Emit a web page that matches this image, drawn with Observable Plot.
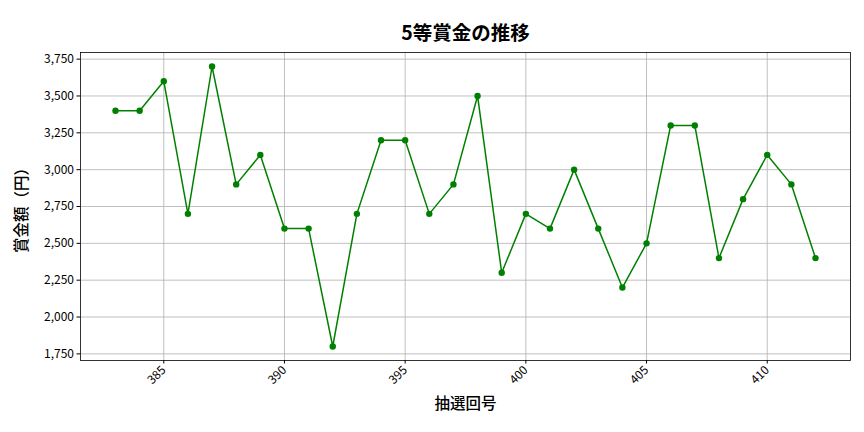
<!DOCTYPE html>
<html><head><meta charset="utf-8">
<script src="https://cdn.jsdelivr.net/npm/d3@7"></script>
<script src="https://cdn.jsdelivr.net/npm/@observablehq/plot@0.6"></script>
<style>body{margin:0;background:#fff}</style>
</head><body><div id="chart"></div>
<script>
const draws = [383,384,385,386,387,388,389,390,391,392,393,394,395,396,397,398,399,400,401,402,403,404,405,406,407,408,409,410,411,412];
const prizes = [3400,3400,3600,2700,3700,2900,3100,2600,2600,1800,2700,3200,3200,2700,2900,3500,2300,2700,2600,3000,2600,2200,2500,3300,3300,2400,2800,3100,2900,2400];
const xTicks = [385,390,395,400,405,410];
const yTicks = [1750,2000,2250,2500,2750,3000,3250,3500,3750];
const title = "5等賞金の推移";
const xLabel = "抽選回号";
const yLabel = "賞金額（円）";

const data = draws.map((d, i) => ({draw: d, prize: prizes[i]}));
const font = '"Noto Sans CJK JP", "Noto Sans", sans-serif';

const plot = Plot.plot({
  width: 864, height: 432,
  marginLeft: 80, marginRight: 14, marginTop: 52, marginBottom: 72,
  style: {fontFamily: font, fontSize: "12px", color: "#000", background: "#fff"},
  x: {domain: [381.55, 413.45], label: null},
  y: {domain: [1705, 3795], label: null},
  marks: [
    Plot.gridX(xTicks, {stroke: "#b0b0b0", strokeOpacity: 1, strokeWidth: 0.8}),
    Plot.gridY(yTicks, {stroke: "#b0b0b0", strokeOpacity: 1, strokeWidth: 0.8}),
    Plot.axisX(xTicks, {tickRotate: -45, tickSize: 3.5, tickPadding: 4, tickFormat: d => String(d), label: null, fontSize: 12}),
    Plot.axisY(yTicks, {tickSize: 3.5, tickPadding: 3, tickFormat: d3.format(","), label: null, fontSize: 12}),
    Plot.line(data, {x: "draw", y: "prize", stroke: "#008000", strokeWidth: 1.5}),
    Plot.dot(data, {x: "draw", y: "prize", fill: "#008000", r: 3.2}),
    Plot.frame({stroke: "#000", strokeWidth: 0.8}),
    Plot.text([title], {frameAnchor: "top", dy: -26, text: d => d, fontSize: 19.5, fontWeight: 600, fill: "#000"}),
    Plot.text([xLabel], {frameAnchor: "bottom", dy: 48, text: d => d, fontSize: 15.5, fontWeight: 500, fill: "#000"}),
    Plot.text([yLabel], {frameAnchor: "left", dx: -58, rotate: -90, textAnchor: "middle", text: d => d, fontSize: 15.5, fontWeight: 500, fill: "#000"})
  ]
});
document.getElementById("chart").appendChild(plot);
</script>
</body></html>
